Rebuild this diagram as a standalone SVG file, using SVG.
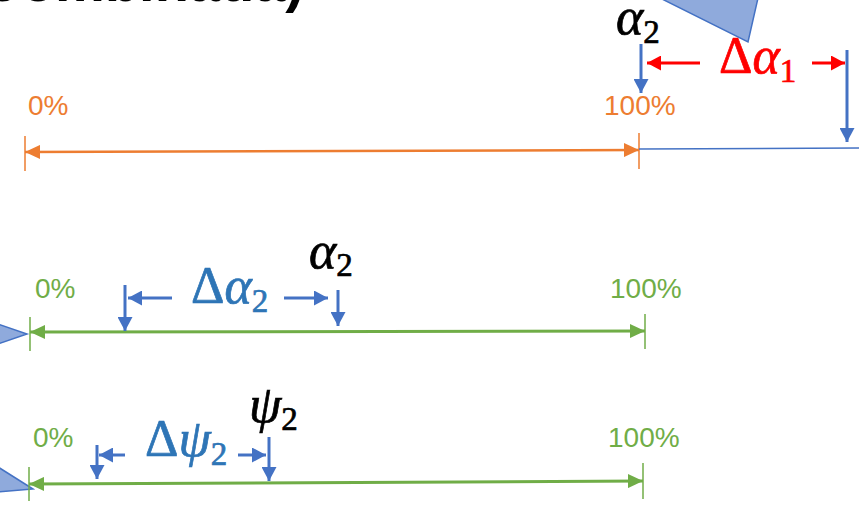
<svg xmlns="http://www.w3.org/2000/svg" width="859" height="505" viewBox="0 0 859 505">
<style>
.pct{font-family:"Liberation Sans",Arial,sans-serif;font-size:28px}
.or{fill:#ED7D31}
.gr{fill:#70AD47}
.m{font-family:"Liberation Serif","Times New Roman",serif;font-size:52px;stroke-width:0.7}
.s{font-family:"Liberation Serif","Times New Roman",serif;font-size:33px;font-style:normal}
.it{font-style:italic}
.blk{fill:#000;stroke:#000}
.btx{fill:#2E75B6;stroke:#2E75B6}
.red{fill:#FF0000;stroke:#FF0000}
.tri{fill:#8FAADC;stroke:#4472C4;stroke-width:1.5}
.ba{stroke:#4472C4;stroke-width:3;fill:none;marker-end:url(#hb)}
.ra{stroke:#FF0000;stroke-width:3;fill:none;marker-end:url(#hr)}
.ol{stroke:#ED7D31;stroke-width:2.5;fill:none;marker-start:url(#ho);marker-end:url(#ho)}
.gl{stroke:#70AD47;stroke-width:3;fill:none;marker-start:url(#hg);marker-end:url(#hg)}
.ot{stroke:#ED7D31;stroke-width:1.5}
.gt{stroke:#70AD47;stroke-width:1.5}
</style>
<defs>
<marker id="hb" markerUnits="userSpaceOnUse" markerWidth="15" markerHeight="15" refX="14" refY="7.5" orient="auto"><path d="M0,0 L14,7.5 L0,15 z" fill="#4472C4"/></marker>
<marker id="hr" markerUnits="userSpaceOnUse" markerWidth="15" markerHeight="15" refX="14" refY="7.5" orient="auto"><path d="M0,0 L14,7.5 L0,15 z" fill="#FF0000"/></marker>
<marker id="ho" markerUnits="userSpaceOnUse" markerWidth="15" markerHeight="14" refX="15" refY="7" orient="auto-start-reverse"><path d="M0,0 L15,7 L0,14 z" fill="#ED7D31"/></marker>
<marker id="hg" markerUnits="userSpaceOnUse" markerWidth="15" markerHeight="14" refX="15" refY="7" orient="auto-start-reverse"><path d="M0,0 L15,7 L0,14 z" fill="#70AD47"/></marker>
</defs>

<g id="title"><text x="304" y="1" text-anchor="end" font-family="Liberation Sans,Arial,sans-serif" font-weight="bold" font-size="56">Combinada)</text></g>

<g id="triangle-top"><polygon class="tri" points="660,-2 748,42 758,-2"/></g>
<g id="triangle-mid"><polygon class="tri" points="-2,324 27,334 -2,344"/></g>
<g id="triangle-bot"><polygon class="tri" points="-2,467 33,489 -2,492"/></g>

<g id="connectors">
<line class="ol" x1="25" y1="152" x2="639" y2="150"/>
<line class="ot" x1="25" y1="136" x2="25" y2="171"/>
<line class="ot" x1="639" y1="133" x2="639" y2="169"/>
<line x1="639" y1="149" x2="859" y2="148" stroke="#4472C4" stroke-width="1.5"/>
<line class="ba" x1="641" y1="44" x2="641" y2="93"/>
<line class="ba" x1="847" y1="50" x2="847" y2="142"/>
<line class="ra" x1="700" y1="63" x2="647" y2="63"/>
<line class="ra" x1="812" y1="63" x2="845" y2="63"/>

<line class="gl" x1="30" y1="332" x2="645" y2="331"/>
<line class="gt" x1="30" y1="317" x2="30" y2="351"/>
<line class="gt" x1="645" y1="314" x2="645" y2="349"/>
<line class="ba" x1="125" y1="285" x2="125" y2="331"/>
<line class="ba" x1="172" y1="298" x2="128" y2="298"/>
<line class="ba" x1="284" y1="298" x2="328" y2="298"/>
<line class="ba" x1="338" y1="290" x2="338" y2="326"/>

<line class="gl" x1="29" y1="484" x2="643" y2="481"/>
<line class="gt" x1="29" y1="467" x2="29" y2="501"/>
<line class="gt" x1="643" y1="463" x2="643" y2="499"/>
<line class="ba" x1="97" y1="445" x2="97" y2="479"/>
<line class="ba" x1="125" y1="455" x2="99" y2="455"/>
<line class="ba" x1="238" y1="455" x2="266" y2="455"/>
<line class="ba" x1="269" y1="437" x2="269" y2="481"/>
</g>

<g id="top-0pct"><text class="pct or" x="28" y="115">0%</text></g>
<g id="top-100pct"><text class="pct or" x="604" y="115">100%</text></g>
<g id="top-alpha2"><text class="m blk" x="616" y="34"><tspan class="it">α</tspan><tspan class="s" dy="9">2</tspan></text></g>
<g id="delta-alpha1"><text class="m red" x="719" y="73">Δ<tspan class="it">α</tspan><tspan class="s" dy="9">1</tspan></text></g>

<g id="mid-0pct"><text class="pct gr" x="35" y="298">0%</text></g>
<g id="mid-100pct"><text class="pct gr" x="610" y="298">100%</text></g>
<g id="mid-alpha2"><text class="m blk" x="309" y="268"><tspan class="it">α</tspan><tspan class="s" dy="8">2</tspan></text></g>
<g id="delta-alpha2"><text class="m btx" x="191" y="303">Δ<tspan class="it">α</tspan><tspan class="s" dy="9">2</tspan></text></g>

<g id="bot-0pct"><text class="pct gr" x="33" y="447">0%</text></g>
<g id="bot-100pct"><text class="pct gr" x="608" y="447">100%</text></g>
<g id="bot-psi2"><text class="m blk" x="249" y="422"><tspan class="it">ψ</tspan><tspan class="s" dy="8">2</tspan></text></g>
<g id="delta-psi2"><text class="m btx" x="145" y="456">Δ<tspan class="it">ψ</tspan><tspan class="s" dy="9">2</tspan></text></g>
</svg>
